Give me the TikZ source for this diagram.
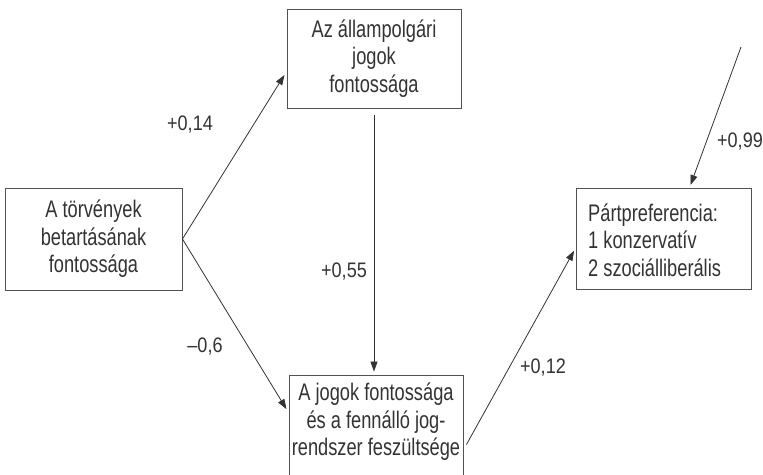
\documentclass[tikz,border=0pt]{standalone}
\usepackage{fontspec}
\setmainfont{Liberation Sans}[FakeStretch=0.76]
\newfontfamily\labfont{Liberation Sans}[FakeStretch=0.86]
\usetikzlibrary{arrows.meta,calc}
\definecolor{ink}{HTML}{333333}
\tikzset{
  boxtext/.style={text=ink, font=\fontsize{24}{27.5}\selectfont, inner sep=0pt},
  box/.style={draw=ink!85, line width=0.9pt, rectangle, align=center, boxtext},
  conn/.style={draw=ink, line width=0.8pt, -{Triangle[length=10pt,width=7pt]}},
  lab/.style={text=ink, font=\labfont\fontsize{21}{24}\selectfont, inner sep=0pt}
}
\begin{document}
\begin{tikzpicture}[x=1pt,y=-1pt]
\useasboundingbox (0,0) rectangle (763,474);
\node[box, minimum width=177pt, minimum height=102pt] (b1) at (93.5,239) {A törvények\\betartásának\\fontossága};
\node[box, minimum width=174pt, minimum height=99pt] (b2) at (374,58.5) {Az állampolgári\\jogok\\fontossága};
\node[box, minimum width=174pt, minimum height=101pt] (b3) at (376,425.5) {};
\node[boxtext, align=center] (t3) at (376,422) {A jogok fontossága\\és a fennálló jog-\\rendszer feszültsége};
\node[box, minimum width=175pt, minimum height=101pt] (b4) at (663.5,239) {};
\node[boxtext, align=left, anchor=west] (t4) at (588,240) {Pártpreferencia:\\1 konzervatív\\2 szociálliberális};
\coordinate (src) at (741,47);
\draw[conn, shorten >=4pt] (b1.east) -- ($(b2.north west)+(0,63)$);
\draw[conn, shorten >=4pt] (b1.east) -- ($(b3.north west)+(0,38)$);
\draw[conn, shorten <=7pt, shorten >=3pt] (b2.south) -- (b2.south |- b3.north);
\draw[conn, shorten >=3pt] ($(b3.north east)+(3,70)$) -- ($(b4.north west)+(0,60)$);
\draw[conn] (src) -- ($(b4.north)+(27,-3)$);
\node[lab] (l1) at (190,125) {+0,14};
\node[lab] (l2) at (344,272) {+0,55};
\node[lab] (l3) at (205,347) {–0,6};
\node[lab] (l4) at (543,368) {+0,12};
\node[lab] (l5) at (740,142) {+0,99};
\end{tikzpicture}
\end{document}
